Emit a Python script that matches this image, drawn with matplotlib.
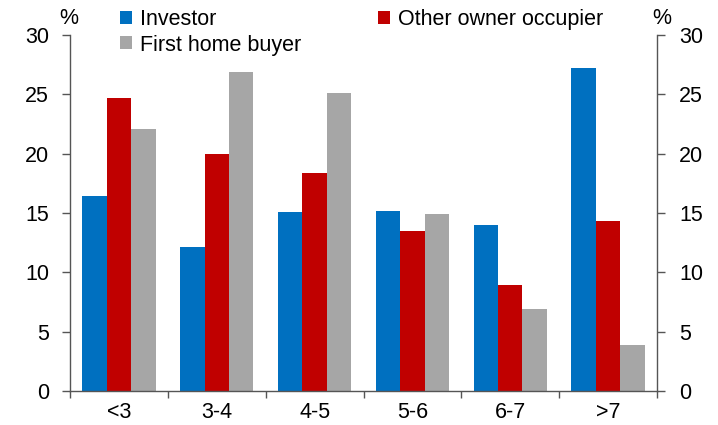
import matplotlib
matplotlib.use("Agg")
import matplotlib.pyplot as plt
import numpy as np
from matplotlib.ticker import FixedLocator

plt.rcParams['font.family'] = ['Liberation Sans', 'DejaVu Sans']

categories = ['<3', '3-4', '4-5', '5-6', '6-7', '>7']
investor = [16.4, 12.1, 15.1, 15.2, 14.0, 27.2]
other_owner = [24.7, 20.0, 18.4, 13.5, 8.9, 14.3]
first_home = [22.1, 26.9, 25.1, 14.9, 6.9, 3.9]
series_names = ['Investor', 'Other owner occupier', 'First home buyer']
colors = ['#0070C0', '#C00000', '#A6A6A6']
yticks = [0, 5, 10, 15, 20, 25, 30]

FS = 15.5
fig = plt.figure(figsize=(7.18, 4.25), dpi=100)
ax = fig.add_axes([70/718, 1-391/425, (657-70)/718, (391-35)/425])

x = np.arange(len(categories))
w = 0.25
bars = []
for i, (vals, c, n) in enumerate(zip([investor, other_owner, first_home], colors, series_names)):
    b = ax.bar(x + (i - 1) * w, vals, width=w, color=c, label=n, linewidth=0)
    bars.append(b)

ax.set_xlim(-0.5, len(categories) - 0.5)
ax.set_ylim(0, 30)
ax.set_yticks(yticks)
ax.set_xticks(x)
ax.set_xticklabels(categories)
ax.xaxis.set_minor_locator(FixedLocator(np.arange(-0.5, len(categories), 1.0)))
ax.tick_params(axis='x', which='major', length=0, pad=8, labelsize=FS)
ax.tick_params(axis='x', which='minor', length=5, width=1, color='#555555', direction='out')
ax.tick_params(axis='y', length=6, width=1, color='#555555', labelsize=FS, pad=9)

ax2 = ax.twinx()
ax2.set_ylim(0, 30)
ax2.set_yticks(yticks)
ax2.tick_params(axis='y', length=6, width=1, color='#555555', labelsize=FS, pad=10)

for a in (ax, ax2):
    a.spines['top'].set_visible(False)
    for s in ('left', 'right', 'bottom'):
        a.spines[s].set_color('#555555')
        a.spines[s].set_linewidth(1)
ax.spines['right'].set_visible(False)
ax2.spines['left'].set_visible(False)
ax2.spines['bottom'].set_visible(False)

fig.text(69/718, 1-18/425, '%', fontsize=FS, ha='center', va='center')
fig.text(662/718, 1-19/425, '%', fontsize=FS, ha='center', va='center')

leg = fig.legend([bars[0], bars[2], bars[1]], [series_names[0], series_names[2], series_names[1]],
                 loc='upper left', bbox_to_anchor=(117/718, 1 - 6/425),
                 ncol=2, frameon=False, fontsize=FS, handlelength=0.55, handleheight=0.55,
                 handletextpad=0.35, columnspacing=3.6, labelspacing=0.2, borderaxespad=0.0,
                 borderpad=0.15)

fig.savefig('out.png', dpi=100)
